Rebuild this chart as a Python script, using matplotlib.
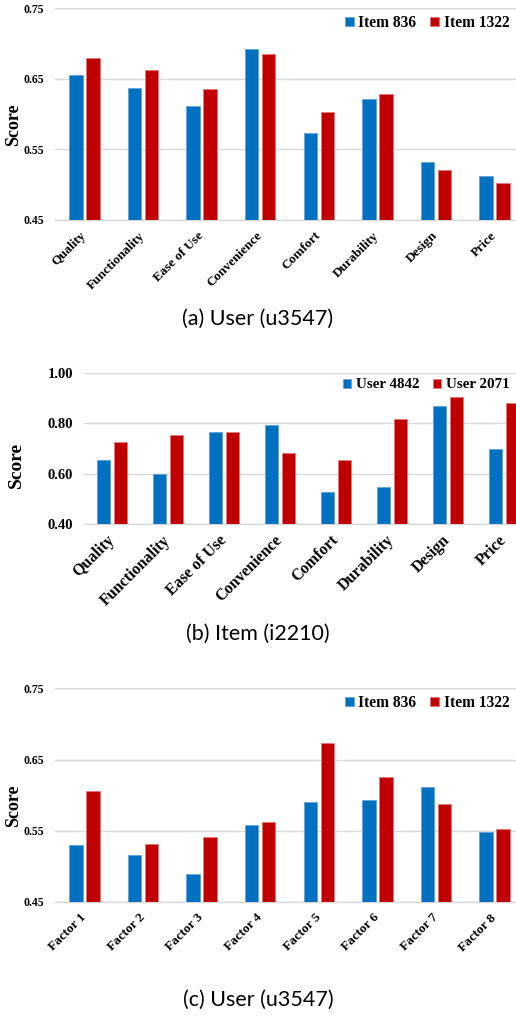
import numpy as np
import matplotlib
matplotlib.use("Agg")
import matplotlib.pyplot as plt

# data
aspects = ["Quality", "Functionality", "Ease of Use", "Convenience",
           "Comfort", "Durability", "Design", "Price"]
factors = ["Factor 1", "Factor 2", "Factor 3", "Factor 4",
           "Factor 5", "Factor 6", "Factor 7", "Factor 8"]

a_item836 = [0.655, 0.637, 0.611, 0.692, 0.573, 0.621, 0.532, 0.512]
a_item1322 = [0.680, 0.663, 0.636, 0.685, 0.603, 0.629, 0.521, 0.503]

b_user4842 = [0.655, 0.598, 0.765, 0.793, 0.526, 0.547, 0.867, 0.699]
b_user2071 = [0.725, 0.753, 0.764, 0.683, 0.655, 0.817, 0.903, 0.881]

c_item836 = [0.530, 0.516, 0.490, 0.558, 0.590, 0.593, 0.611, 0.548]
c_item1322 = [0.606, 0.531, 0.541, 0.562, 0.673, 0.625, 0.587, 0.552]

a_ticks = [0.45, 0.55, 0.65, 0.75]
b_ticks = [0.40, 0.60, 0.80, 1.00]
c_ticks = [0.45, 0.55, 0.65, 0.75]

BLUE = "#0070C0"
RED = "#C00000"
GRID = "#D9D9D9"
SERIF = "Liberation Serif"

W, H = 516, 1017
fig = plt.figure(figsize=(W / 100, H / 100), dpi=100)


def panel(left, top, bottom, right, cats, s1, s2, names, ticks, fmt,
          tfs, xfs, lfs, legfs, leg_x, leg_y, cap, cap_y, lab_x, lab_y):
    ax = fig.add_axes([left / W, 1 - bottom / H, (right - left) / W, (bottom - top) / H])
    x = np.arange(len(cats))
    w = 0.232
    off = 0.145
    b1 = ax.bar(x - off, s1, w, color=BLUE, edgecolor="#5fa3da", linewidth=0.6, zorder=3)
    b2 = ax.bar(x + off, s2, w, color=RED, edgecolor="#e07a7a", linewidth=0.6, zorder=3)
    ax.set_xlim(-0.5, len(cats) - 0.5)
    ax.set_ylim(ticks[0], ticks[-1])
    ax.set_yticks(ticks)
    ax.set_yticklabels([fmt % t for t in ticks], fontfamily=SERIF,
                       fontweight="bold", fontsize=tfs)
    ax.set_xticks(x)
    ax.set_xticklabels(cats, rotation=45, ha="right", va="center",
                       rotation_mode="anchor", fontfamily=SERIF,
                       fontweight="bold", fontsize=xfs)
    ax.tick_params(axis="both", length=0)
    ax.tick_params(axis="y", pad=8)
    ax.tick_params(axis="x", pad=10)
    ax.grid(axis="y", color=GRID, linewidth=1.0, zorder=0)
    for s in ["top", "right", "left"]:
        ax.spines[s].set_visible(False)
    ax.spines["bottom"].set_color(GRID)
    ax.spines["bottom"].set_linewidth(1.0)
    ax.set_ylabel("Score", fontfamily=SERIF, fontweight="bold", fontsize=lfs)
    ax.yaxis.set_label_coords(lab_x / W, 1 - lab_y / H,
                              transform=fig.transFigure)
    ax.legend([b1, b2], names, loc="center left",
              bbox_to_anchor=(leg_x / W, 1 - leg_y / H),
              bbox_transform=fig.transFigure, ncol=2, frameon=False,
              borderpad=0, borderaxespad=0, handlelength=0.55,
              handleheight=0.55, handletextpad=0.3, columnspacing=0.9,
              prop={"family": SERIF, "weight": "bold", "size": legfs})
    fig.text(0.5, 1 - cap_y / H, cap, ha="center", va="center",
             fontfamily="Lato", fontsize=15.5)
    return ax


panel(55, 8.3, 220, 524, aspects, a_item836, a_item1322,
      ["Item 836", "Item 1322"], a_ticks, "%.2f",
      8.5, 9.5, 13, 11.2, 345, 23, "(a) User (u3547)", 319, 22, 125)

panel(84, 372.7, 524, 532, aspects, b_user4842, b_user2071,
      ["User 4842", "User 2071"], b_ticks, "%.2f",
      10.5, 11.5, 14, 10.8, 343, 385, "(b) Item (i2210)", 634, 25, 465)

panel(55, 688.3, 902, 524, factors, c_item836, c_item1322,
      ["Item 836", "Item 1322"], c_ticks, "%.2f",
      8.5, 9.5, 13, 11.2, 345, 703, "(c) User (u3547)", 1000, 22, 806)

fig.savefig("out.png", dpi=100)
